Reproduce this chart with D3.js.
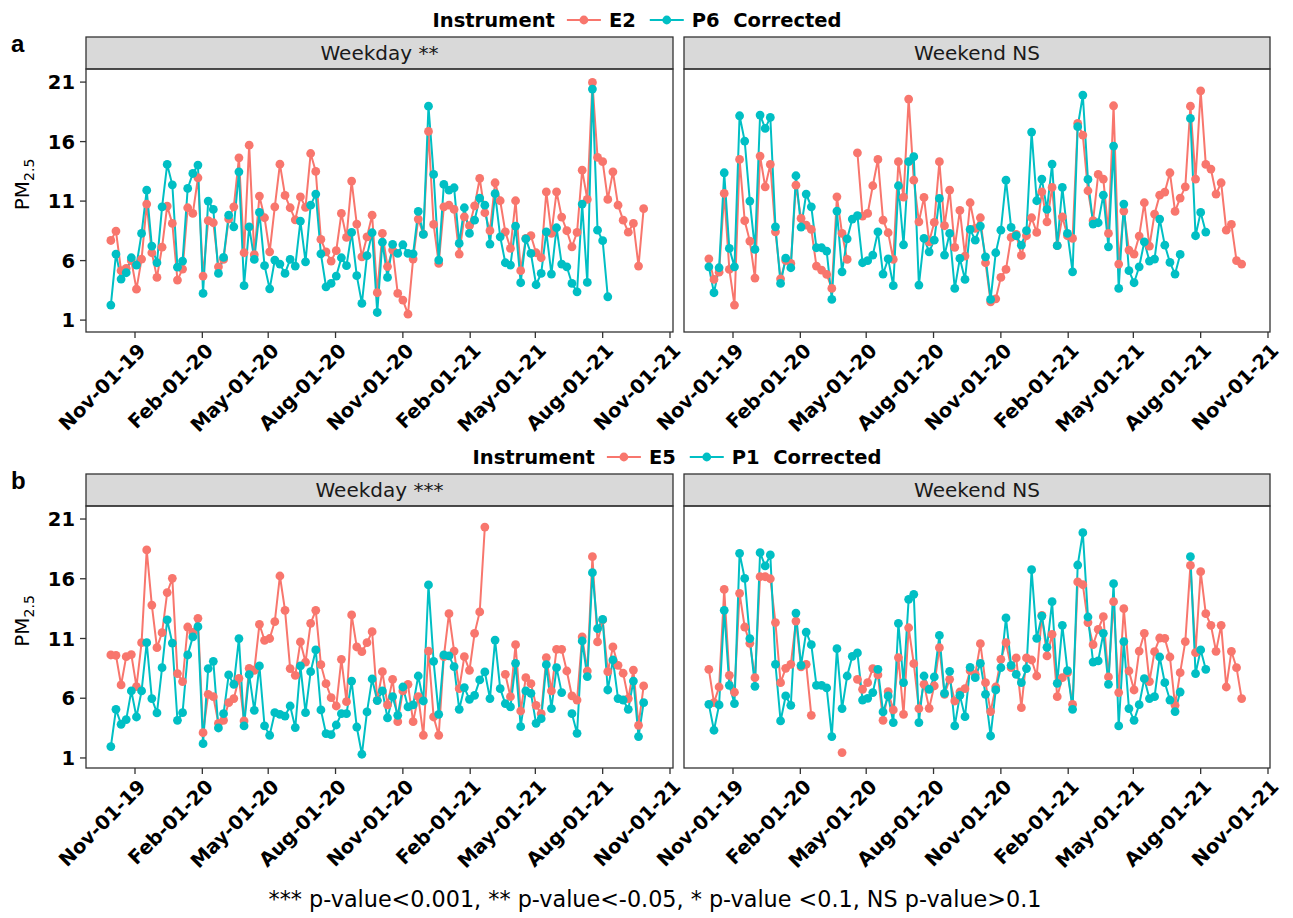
<!DOCTYPE html>
<html>
<head>
<meta charset="utf-8">
<script src="https://cdn.jsdelivr.net/npm/d3@7"></script>
<style>
  body { margin: 0; background: #fff; }
  text { font-family: "DejaVu Sans", sans-serif; }
</style>
</head>
<body>
<svg id="chart" width="1293" height="918"></svg>
<script>
// weekly means, first week starting 2019-09-29 (index 0), null = no data
const aWeekdayE2 = [7.69, 8.48, 5.15, 5.34, 5.99, 3.6, 6.13, 10.75, 6.66, 4.59, 7.13, 10.58, 9.12, 4.36, 5.29, 10.44, 9.96, 12.96, 4.7, 9.35, 9.18, 5.48, 6.1, 9.5, 10.52, 14.64, 6.66, 15.7, 6.5, 11.42, 9.6, 6.74, 10.52, 14.1,
  11.48, 10.44, 9.43, 11.36, 10.47, 15.0, 13.49, 7.78, 6.74, 5.96, 6.83, 9.96, 7.95, 12.68, 9.07, 6.32, 8.0, 9.82, 3.3, 8.28, 5.5, 6.88, 3.24, 2.68, 1.5, 6.13, 9.49, 8.23, 16.85, 9.04, 5.76, 10.52, 10.66, 10.3, 6.55, 9.68, 8.93, 10.6, 12.9,
  10.02, 8.51, 12.54, 11.03, 8.42, 7.02, 11.03, 5.15, 7.86, 8.09, 6.66, 6.24, 11.78, 8.28, 11.78, 9.66, 8.51, 7.16, 8.37, 13.6, 11.14, 20.97, 14.67, 14.31, 11.14, 13.46, 10.66, 9.4, 8.39, 9.12, 5.54, 10.36];
const aWeekdayP6 = [2.26, 6.55, 4.45, 4.98, 6.24, 5.62, 8.28, 11.92, 7.22, 5.82, 10.52, 14.08, 12.37, 5.45, 5.96, 12.06, 13.32, 14.03, 3.24, 11.0, 10.3, 4.92, 6.27, 9.82, 8.84, 13.46, 3.89, 8.84, 6.1, 10.05, 5.57, 3.63, 6.04, 5.71,
  4.92, 6.1, 5.54, 9.32, 5.9, 10.66, 11.59, 6.57, 3.8, 4.08, 4.7, 6.24, 5.57, 8.37, 4.73, 2.4, 6.41, 8.34, 1.64, 7.55, 4.59, 7.36, 6.6, 7.33, 6.6, 6.57, 10.13, 8.2, 18.98, 13.24, 6.04, 12.4, 11.92, 12.12, 7.44, 10.44, 8.28, 9.4, 11.25,
  10.66, 7.39, 11.62, 8.0, 5.82, 5.62, 8.9, 4.14, 7.83, 6.6, 3.97, 4.92, 8.42, 4.87, 8.76, 5.71, 5.48, 4.08, 3.38, 10.75, 4.17, 20.41, 8.56, 7.67, 2.96];
const aWeekendE2 = [6.15, 4.42, 5.03, 11.64, 5.26, 2.26, 14.5, 9.35, 7.64, 4.53, 14.78, 12.2, 14.08, 8.42, 4.47, 6.01, 5.76, 12.34, 9.54, 8.98, 8.62, 5.54, 5.2, 4.84, 3.66, 11.36, 8.28, 6.1, null, 15.06, 9.74, 9.96, 12.29, 14.5,
  9.4, 8.34, 6.1, 14.31, 11.34, 19.57, 12.76, 9.26, 11.31, 7.58, 9.21, 14.31, 8.93, 11.92, 7.11, 10.22, 6.38, 10.86, 8.7, 9.6, 5.82, 2.54, 2.79, 4.59, 5.26, 7.95, 8.2, 6.43, 8.09, 9.6, 8.37, 11.78, 9.26, 12.15, 7.25, 9.68, 8.09, 7.86, 17.53,
  16.55, 11.87, 9.35, 13.24, 12.85, 8.28, 19.01, 5.71, 10.16, 6.88, 6.55, 8.06, 10.86, 7.22, 9.91, 11.5, 11.76, 13.38, 10.13, 11.25, 12.2, 18.98, 12.85, 20.27, 14.08, 13.69, 11.59, 12.54, 8.56, 9.04, 5.99, 5.71];
const aWeekendP6 = [5.48, 3.3, 5.4, 13.38, 7.02, 5.48, 18.17, 16.04, 11.0, 6.94, 18.23, 17.11, 18.03, 8.84, 4.08, 6.21, 5.4, 13.13, 8.82, 11.59, 10.52, 7.08, 7.08, 6.8, 2.74, 10.16, 5.06, 7.83, 9.49, 9.77, 5.82, 5.99, 6.46, 8.42,
  4.87, 6.15, 3.89, 12.29, 7.33, 14.31, 14.73, 3.94, 7.86, 6.74, 7.72, 11.22, 6.46, 8.28, 3.66, 6.18, 4.42, 8.62, 7.72, 8.9, 6.32, 2.74, 6.66, 8.56, 12.76, 8.79, 8.09, 7.3, 8.51, 16.8, 11.03, 12.85, 10.3, 14.11, 7.25, 12.15, 8.28, 5.06, 17.25,
  19.91, 12.82, 9.07, 9.18, 11.5, 7.16, 15.62, 3.66, 10.75, 5.15, 4.14, 5.48, 7.58, 5.96, 6.13, 9.49, 7.3, 5.85, 4.87, 6.52, null, 17.95, 8.09, 10.05, 8.4];

const bWeekdayE5 = [9.62, 9.59, 7.11, 9.48, 9.65, 6.97, 10.65, 18.41, 13.8, 10.23, 11.49, 14.84, 16.04, 8.06, 7.39, 11.96, 11.5, 12.69, 3.12, 6.33, 6.13, 3.9, 4.15, 5.63, 5.97, 7.67, 4.1, 8.5, 8.34, 12.19, 10.85, 11.0, 12.41, 16.23,
  13.36, 8.48, 7.92, 10.71, 9.03, 12.27, 13.36, 8.81, 7.22, 6.05, 5.35, 9.26, 5.71, 12.97, 10.29, 9.9, 10.65, 11.57, 5.83, 8.22, 5.44, 7.58, 4.04, 6.61, 7.16, 4.04, 6.13, 2.9, 9.95, 4.43, 2.9, 9.48, 13.08, 9.95, 6.8, 9.48, 8.34, 11.43, 13.22,
  20.33, null, null, null, 8.0, 6.13, 10.48, 4.93, 7.72, 7.22, 5.41, 4.71, 9.4, 6.61, 10.09, 10.09, 8.28, 6.19, 5.85, 11.13, 8.28, 17.85, 10.71, 12.55, 8.22, 10.29, 8.75, 8.09, 5.97, 8.36, 3.73, 7.03];
const bWeekdayP1 = [1.95, 5.07, 3.82, 4.21, 6.61, 4.43, 6.61, 10.65, 5.97, 4.77, 8.56, 12.55, 10.62, 4.15, 4.79, 9.62, 11.13, 11.99, 2.2, 8.48, 9.09, 3.51, 4.71, 7.95, 7.16, 10.99, 3.68, 7.97, 4.99, 8.7, 3.68, 2.9, 4.79, 4.65,
  4.51, 5.35, 3.54, 8.7, 4.79, 8.22, 10.04, 5.02, 3.04, 2.95, 3.76, 4.71, 4.71, 7.44, 3.59, 1.31, 4.85, 7.61, 5.8, 6.61, 4.35, 6.13, 4.57, 6.94, 5.27, 5.44, 7.86, 5.77, 15.48, 9.09, 4.65, 9.62, 9.54, 8.64, 5.07, 6.89, 5.91, 6.24, 7.53,
  8.2, 5.97, 10.87, 6.8, 5.55, 5.27, 8.92, 3.62, 6.61, 6.41, 3.9, 4.29, 8.81, 5.13, 8.56, 6.47, null, 4.71, 3.06, 10.79, 7.81, 16.51, 11.82, 12.6, 6.69, 9.2, 5.97, 5.85, 5.07, 7.44, 2.79, 5.63];
const bWeekendE5 = [8.42, 5.63, 6.94, 15.11, 7.92, 6.5, 14.78, 11.96, 10.6, 7.72, 16.17, 16.17, 16.0, 12.33, 7.3, 8.5, 8.84, 12.46, 8.62, 8.84, 4.57, null, null, null, null, null, 1.45, null, null, 7.58, 6.75, 7.3, 8.48, 7.95,
  4.15, 6.55, 5.02, 9.4, 4.65, 11.9, 8.89, 5.13, 7.16, 5.16, 7.03, 10.23, 6.33, 7.58, 5.77, 6.52, 6.8, 8.31, 8.0, 10.57, 7.3, 4.88, 6.94, 9.26, 10.65, 8.56, 9.37, 5.21, 9.37, 9.2, 7.86, 12.94, 9.54, 11.35, 6.13, 7.72, 8.14, 5.49, 15.73,
  15.5, 12.33, 10.48, 11.77, 12.83, 7.78, 14.08, 6.47, 13.5, 8.28, 6.69, 9.95, 11.43, 7.39, 9.9, 11.04, 11.01, 9.45, 5.41, 8.14, 10.74, 17.12, 9.81, 16.59, 13.08, 12.1, 9.93, 12.1, 6.94, 9.93, 8.56, 5.97];
const bWeekendP1 = [5.49, 3.32, 5.44, 13.36, 7.08, 5.55, 18.13, 16.03, 10.99, 7.0, 18.18, 17.07, 17.99, 8.84, 4.1, 6.19, 5.41, 13.13, 8.75, 11.54, 10.48, 7.08, 7.08, 6.86, 2.79, 10.15, 5.13, 7.86, 9.51, 9.79, 5.85, 5.99, 6.47, 8.42,
  4.85, 6.19, 3.96, 12.27, 7.3, 14.28, 14.7, 3.96, 7.86, 6.75, 7.78, 11.26, 6.41, 8.25, 3.68, 6.24, 4.46, 8.59, 7.72, 8.92, 6.33, 2.84, 6.69, 8.56, 12.72, 8.75, 8.0, 7.3, 8.48, 16.76, 11.01, 12.88, 10.26, 14.08, 7.25, 12.1, 8.31, 5.07, 17.15,
  19.86, 12.8, 9.03, 9.12, 11.43, 7.16, 15.59, 3.68, 10.74, 5.13, 4.15, 5.46, 7.64, 5.97, 6.13, 9.45, 7.3, 5.85, 4.88, 6.52, null, 17.85, 8.06, 10.04, 8.42];

const tickDates = ["2019-11-01", "2020-02-01", "2020-05-01", "2020-08-01", "2020-11-01", "2021-02-01", "2021-05-01", "2021-08-01", "2021-11-01"];
const tickLabels = ["Nov-01-19", "Feb-01-20", "May-01-20", "Aug-01-20", "Nov-01-20", "Feb-01-21", "May-01-21", "Aug-01-21", "Nov-01-21"];
const yTicks = [1, 6, 11, 16, 21];

const RED = "#F8766D", TEAL = "#00BFC4", DARK = "#333333";
const START = new Date(2019, 8, 29);
const parse = d3.timeParse("%Y-%m-%d");

const svg = d3.select("#chart");

// two facet columns, shared date scale
const COLS = [{ x0: 86, w: 587 }, { x0: 684, w: 586 }];
const x = d3.scaleTime()
  .domain([parse("2019-11-01"), parse("2021-11-01")])
  .range([49, 584]);

const ROWS = [
  { tag: "a", top: 69, h: 263, legY: 20, legX: 637, yDom: [0, 22.1],
    names: ["E2", "P6  Corrected"],
    facets: [{ label: "Weekday **", red: aWeekdayE2, teal: aWeekdayP6 },
             { label: "Weekend NS", red: aWeekendE2, teal: aWeekendP6 }] },
  { tag: "b", top: 506, h: 262, legY: 457, legX: 677, yDom: [0.16, 22.09],
    names: ["E5", "P1  Corrected"],
    facets: [{ label: "Weekday ***", red: bWeekdayE5, teal: bWeekdayP1 },
             { label: "Weekend NS", red: bWeekendE5, teal: bWeekendP1 }] }
];

const toPoints = vals => vals.map((v, i) => ({ date: d3.timeDay.offset(START, 7 * i), v }));

ROWS.forEach(row => {
  const y = d3.scaleLinear().domain(row.yDom).range([row.h, 0]);
  const line = d3.line()
    .defined(d => d.v != null)
    .x(d => x(d.date))
    .y(d => y(d.v));

  // tag letter
  svg.append("text")
    .attr("x", 11).attr("y", row.top - 17)
    .attr("font-size", 24).attr("font-weight", "bold")
    .style("font-family", "Liberation Sans, Arial, sans-serif")
    .text(row.tag);

  // y axis title, centred on strip + panel
  const yt = svg.append("text")
    .attr("transform", `translate(29,${row.top - 32 + (row.h + 32) / 2}) rotate(-90)`)
    .attr("text-anchor", "middle")
    .attr("font-size", 20);
  yt.append("tspan").text("PM");
  yt.append("tspan").attr("font-size", 14).attr("dy", 5).text("2.5");

  row.facets.forEach((f, ci) => {
    const col = COLS[ci];
    const g = svg.append("g").attr("transform", `translate(${col.x0},${row.top})`);

    // strip
    g.append("rect")
      .attr("x", 0).attr("y", -32).attr("width", col.w).attr("height", 32)
      .attr("fill", "#D9D9D9").attr("stroke", DARK).attr("stroke-width", 1.3);
    g.append("text")
      .attr("x", col.w / 2).attr("y", -9)
      .attr("text-anchor", "middle").attr("font-size", 20).attr("fill", "#1a1a1a")
      .text(f.label);

    // lines then points (ggplot order: E first, P on top)
    const redPts = toPoints(f.red), tealPts = toPoints(f.teal);
    [[redPts, RED], [tealPts, TEAL]].forEach(([pts, c]) => {
      g.append("path").datum(pts)
        .attr("fill", "none").attr("stroke", c).attr("stroke-width", 2)
        .attr("d", line);
    });
    [[redPts, RED], [tealPts, TEAL]].forEach(([pts, c]) => {
      g.selectAll(null).data(pts.filter(d => d.v != null)).enter()
        .append("circle")
        .attr("cx", d => x(d.date)).attr("cy", d => y(d.v))
        .attr("r", 4.4).attr("fill", c);
    });

    // panel border
    g.append("rect")
      .attr("width", col.w).attr("height", row.h)
      .attr("fill", "none").attr("stroke", DARK).attr("stroke-width", 1.3);

    // x axis
    const xa = g.append("g").attr("transform", `translate(0,${row.h})`);
    xa.selectAll("line").data(tickDates).enter().append("line")
      .attr("x1", d => x(parse(d))).attr("x2", d => x(parse(d)))
      .attr("y1", 0).attr("y2", 6)
      .attr("stroke", DARK).attr("stroke-width", 1.3);
    xa.selectAll("text").data(tickDates).enter().append("text")
      .attr("transform", d => `translate(${x(parse(d)) + 2},${10}) rotate(-45)`)
      .attr("text-anchor", "end")
      .attr("dy", "0.72em")
      .attr("font-size", 19.5).attr("font-weight", "bold").attr("fill", "#000")
      .text((d, i) => tickLabels[i]);

    // y axis (only left column)
    if (ci === 0) {
      const ya = g.append("g");
      ya.selectAll("line").data(yTicks).enter().append("line")
        .attr("x1", -6).attr("x2", 0)
        .attr("y1", d => y(d)).attr("y2", d => y(d))
        .attr("stroke", DARK).attr("stroke-width", 1.3);
      ya.selectAll("text").data(yTicks).enter().append("text")
        .attr("x", -11).attr("y", d => y(d)).attr("dy", "0.36em")
        .attr("text-anchor", "end")
        .attr("font-size", 19.5).attr("font-weight", "bold").attr("fill", "#000")
        .text(d => d);
    }
  });

  // legend, centred on legX
  const leg = svg.append("g").attr("font-size", 19.5).attr("font-weight", "bold");
  const title = leg.append("text").attr("y", row.legY + 7).text("Instrument");
  let cx = title.node().getComputedTextLength() + 12;
  [[RED, row.names[0]], [TEAL, row.names[1]]].forEach(([c, name]) => {
    leg.append("line").attr("x1", cx).attr("x2", cx + 34)
      .attr("y1", row.legY).attr("y2", row.legY)
      .attr("stroke", c).attr("stroke-width", 2);
    leg.append("circle").attr("cx", cx + 17).attr("cy", row.legY).attr("r", 4.4).attr("fill", c);
    const t = leg.append("text").attr("x", cx + 42).attr("y", row.legY + 7)
      .style("white-space", "pre").attr("xml:space", "preserve").text(name);
    cx += 42 + t.node().getComputedTextLength() + 14;
  });
  const legW = cx - 14;
  leg.attr("transform", `translate(${row.legX - legW / 2},0)`);
});

// caption
svg.append("text")
  .attr("x", 655).attr("y", 907)
  .attr("text-anchor", "middle").attr("font-size", 22.3)
  .text("*** p-value<0.001, ** p-value<-0.05, * p-value <0.1, NS p-value>0.1");
</script>
</body>
</html>
